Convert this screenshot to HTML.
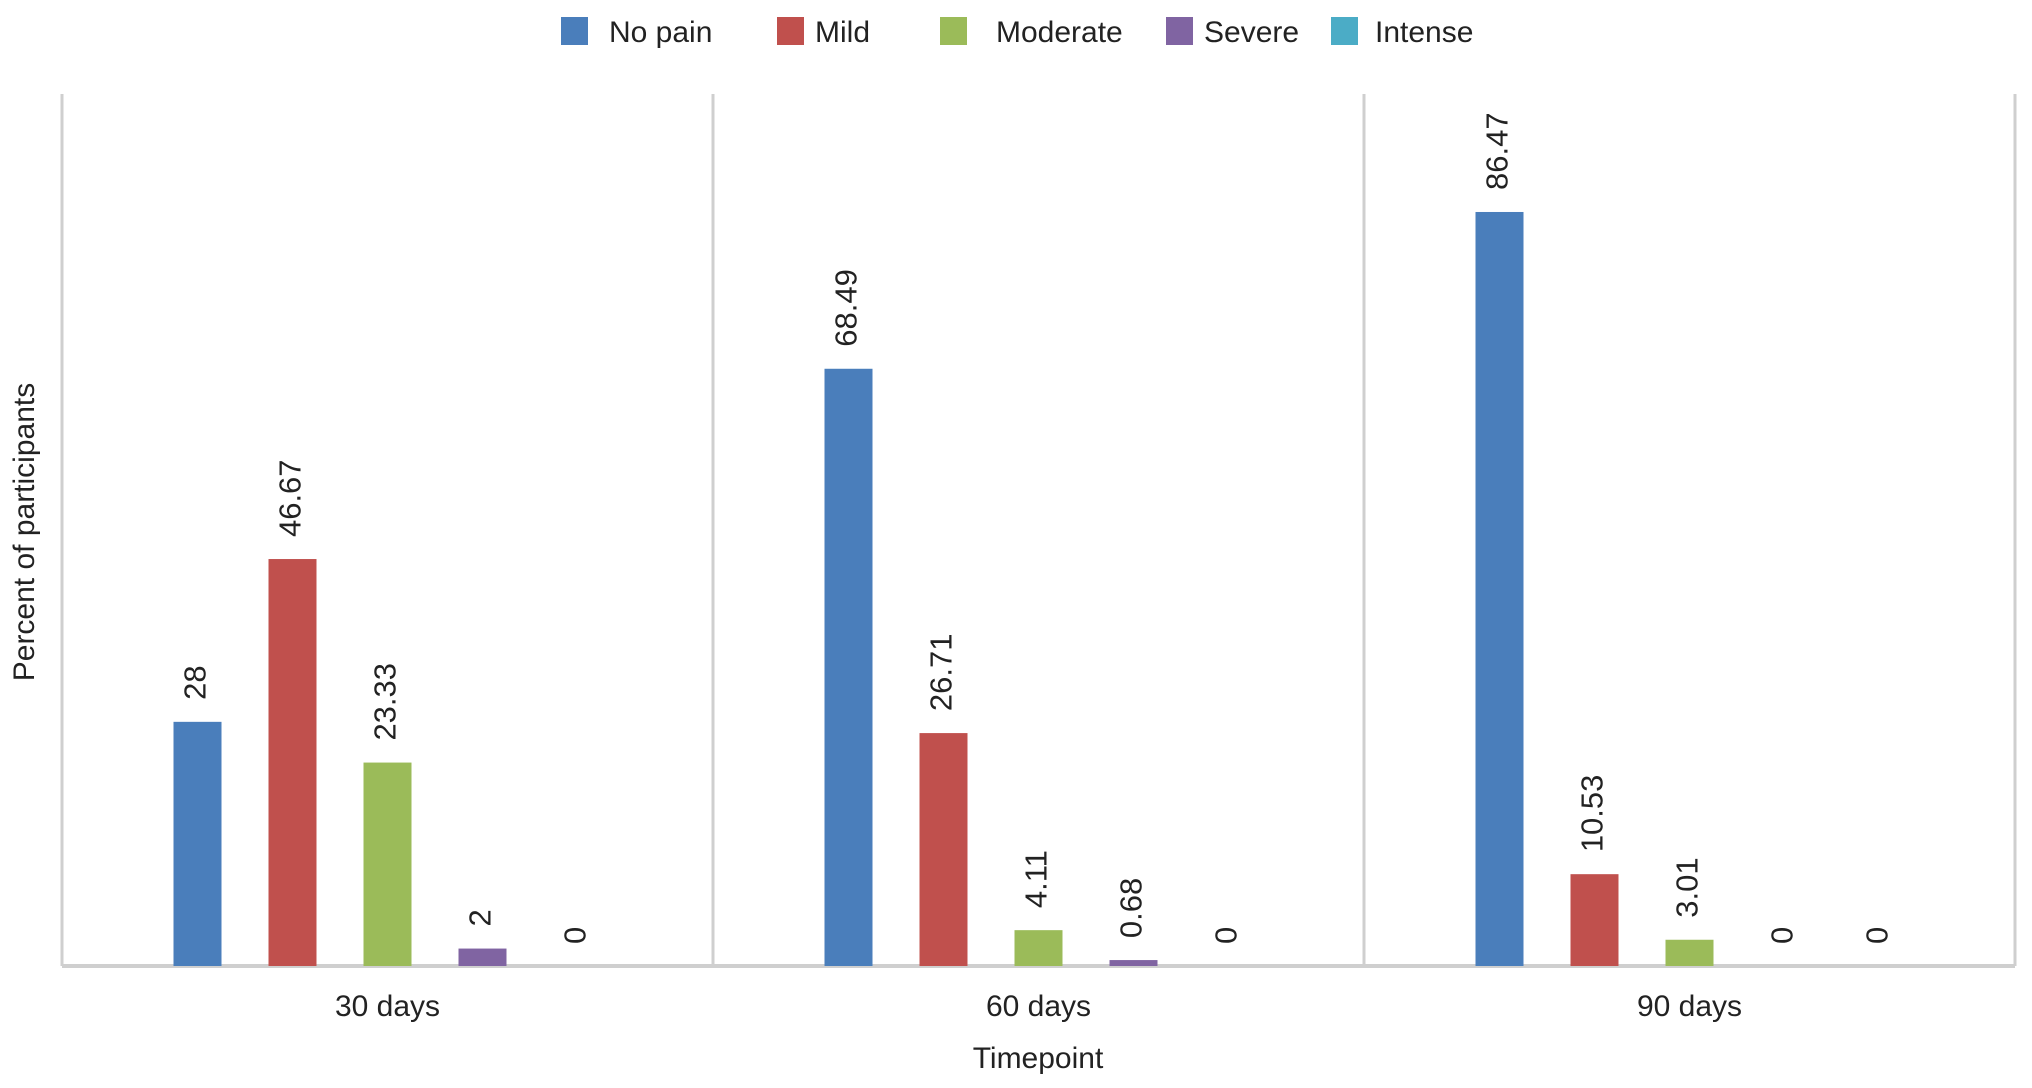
<!DOCTYPE html>
<html><head><meta charset="utf-8"><style>
html,body{margin:0;padding:0;background:#fff;}
svg{display:block;font-family:"Liberation Sans",sans-serif;}
</style></head><body>
<svg id="chart" width="2032" height="1088" viewBox="0 0 2032 1088">
<g id="legend"></g>
<g id="axes"></g>
<g id="bars"></g>
<text x="26" y="532" transform="rotate(-90 26 532)" text-anchor="middle" dominant-baseline="middle" font-size="30" fill="#222">Percent of participants</text>
<text x="1038" y="1068" text-anchor="middle" font-size="30" fill="#222">Timepoint</text>
</svg>
<script>
const categories = ["30 days", "60 days", "90 days"];
const seriesNames = ["No pain", "Mild", "Moderate", "Severe", "Intense"];
const noPain = [28, 68.49, 86.47];
const mild = [46.67, 26.71, 10.53];
const moderate = [23.33, 4.11, 3.01];
const severe = [2, 0.68, 0];
const intense = [0, 0, 0];
const valueLabels = [["28","46.67","23.33","2","0"],["68.49","26.71","4.11","0.68","0"],["86.47","10.53","3.01","0","0"]];
const yMax = 100;

const series = [noPain, mild, moderate, severe, intense];
const colors = ["#4a7ebb", "#c0504d", "#9bbb59", "#8064a2", "#4bacc6"];
const NS = "http://www.w3.org/2000/svg";
const plotL = 62, plotR = 2015, plotT = 94, plotB = 966;
const groupW = (plotR - plotL) / categories.length;
const barW = 48, barStep = 95;
function yScale(v){ return plotB - (v / yMax) * (plotB - plotT); }
function xCenter(ci, si){ return plotL + groupW * (ci + 0.5) + (si - 2) * barStep; }
function mk(tag, attrs, parent){ const e = document.createElementNS(NS, tag); for (const k in attrs) e.setAttribute(k, attrs[k]); parent.appendChild(e); return e; }

const axes = document.getElementById('axes');
for (let i = 0; i <= categories.length; i++) {
  const x = plotL + groupW * i;
  const l = mk('line', {x1:x, y1:plotT, x2:x, y2:plotB, stroke:'#cfcfcf', 'stroke-width':3}, axes);
  
  
}
const base = mk('line', {x1:plotL, y1:plotB, x2:plotR, y2:plotB, stroke:'#cfcfcf', 'stroke-width':4}, axes);


categories.forEach((c, ci) => {
  const t = mk('text', {x: plotL + groupW * (ci + 0.5), y: 1016, 'text-anchor':'middle', 'font-size':30, fill:'#222'}, axes);
  t.textContent = c;
  
  
});

const bars = document.getElementById('bars');
series.forEach((vals, si) => {
  vals.forEach((v, ci) => {
    const cx = xCenter(ci, si);
    const top = yScale(v);
    if (v > 0) {
      const r = mk('rect', {x: cx - barW/2, y: top, width: barW, height: plotB - top, fill: colors[si]}, bars);
      
      
    }
    const ly = top - 22;
    const t = mk('text', {x: cx, y: ly, transform: 'rotate(-90 ' + cx + ' ' + ly + ')', 'dominant-baseline':'middle', 'font-size':31, fill:'#222'}, bars);
    t.textContent = valueLabels[ci][si];
    
    
  });
});

const legend = document.getElementById('legend');
const legSq = [561, 777, 940, 1166, 1331];
const legTx = [609, 815, 996, 1204, 1375];
seriesNames.forEach((n, i) => {
  const r = mk('rect', {x: legSq[i], y: 17, width: 27, height: 28, fill: colors[i]}, legend);
  
  
  const t = mk('text', {x: legTx[i], y: 42, 'font-size':30, fill:'#222'}, legend);
  t.textContent = n;
  
  
});
</script>
</body></html>
